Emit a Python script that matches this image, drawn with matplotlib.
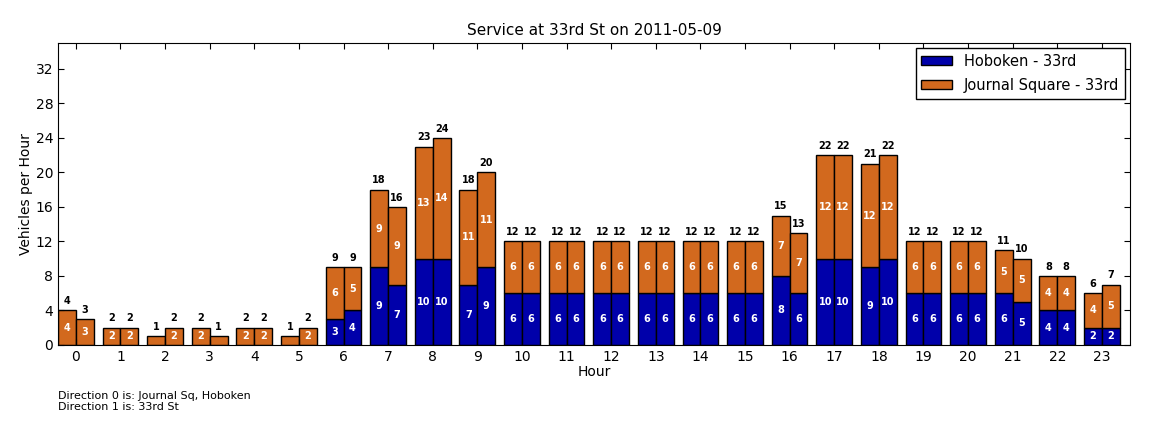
import numpy as np
import matplotlib as mpl
mpl.use('Agg')
import matplotlib.pyplot as plt

hours = np.arange(24)
# direction 0
hob_d0 = [0, 0, 0, 0, 0, 0, 3, 9, 10, 7, 6, 6, 6, 6, 6, 6, 8, 10, 9, 6, 6, 6, 4, 2]
js_d0 = [4, 2, 1, 2, 2, 1, 6, 9, 13, 11, 6, 6, 6, 6, 6, 6, 7, 12, 12, 6, 6, 5, 4, 4]
# direction 1
hob_d1 = [0, 0, 0, 0, 0, 0, 4, 7, 10, 9, 6, 6, 6, 6, 6, 6, 6, 10, 10, 6, 6, 5, 4, 2]
js_d1 = [3, 2, 2, 1, 2, 2, 5, 9, 14, 11, 6, 6, 6, 6, 6, 6, 7, 12, 12, 6, 6, 5, 4, 5]

blue = '#0000aa'
orange = '#d2691e'
width = 0.4

mpl.rcParams['xtick.direction'] = 'in'
mpl.rcParams['ytick.direction'] = 'in'
mpl.rcParams['xtick.top'] = True
mpl.rcParams['ytick.right'] = True

fig = plt.figure(figsize=(11.52, 4.32), dpi=100)
ax = fig.add_axes([58/1152, 1 - 345/432, (1130-58)/1152, (345-43)/432])


def label_segments(xs, bottoms, heights):
    for x, b, h in zip(xs, bottoms, heights):
        if h >= 2:
            ax.text(x + width/2, b + h/2, str(h), color='white', fontsize=7,
                    fontweight='bold', ha='center', va='center')


for left, hob, js in [(hours - width, hob_d0, js_d0), (hours, hob_d1, js_d1)]:
    hob = np.array(hob)
    js = np.array(js)
    b1 = ax.bar(left, hob, width, align='edge', color=blue, edgecolor='black', linewidth=1)
    b2 = ax.bar(left, js, width, bottom=hob, align='edge', color=orange, edgecolor='black', linewidth=1)
    label_segments(left, np.zeros_like(hob), hob)
    label_segments(left, hob, js)
    for x, t in zip(left, hob + js):
        ax.text(x + width/2, t + 0.5, str(t), color='black', fontsize=7,
                fontweight='bold', ha='center', va='bottom')

ax.set_xlim(-0.4, 23.63)
ax.set_ylim(0, 35)
ax.set_xticks(hours)
ax.set_xticklabels([str(h) for h in hours], fontsize=10)
ax.set_yticks(np.arange(0, 33, 4))
ax.tick_params(labelsize=10, length=4)
ax.set_xlabel('Hour', fontsize=10, labelpad=1)
ax.set_ylabel('Vehicles per Hour', fontsize=10, labelpad=2)
ax.set_title('Service at 33rd St on 2011-05-09', fontsize=11)

ax.legend([b1, b2], ['Hoboken - 33rd', 'Journal Square - 33rd'], loc='upper right',
          fontsize=10.5, fancybox=False, edgecolor='black', framealpha=1,
          borderaxespad=0.35, handlelength=2.1, handleheight=0.6,
          handletextpad=0.8, labelspacing=0.6)

fig.text(58/1152, 1 - 412/432, 'Direction 0 is: Journal Sq, Hoboken\nDirection 1 is: 33rd St',
         fontsize=8, va='bottom', ha='left', linespacing=1.15)

fig.savefig('out.png', dpi=100)
